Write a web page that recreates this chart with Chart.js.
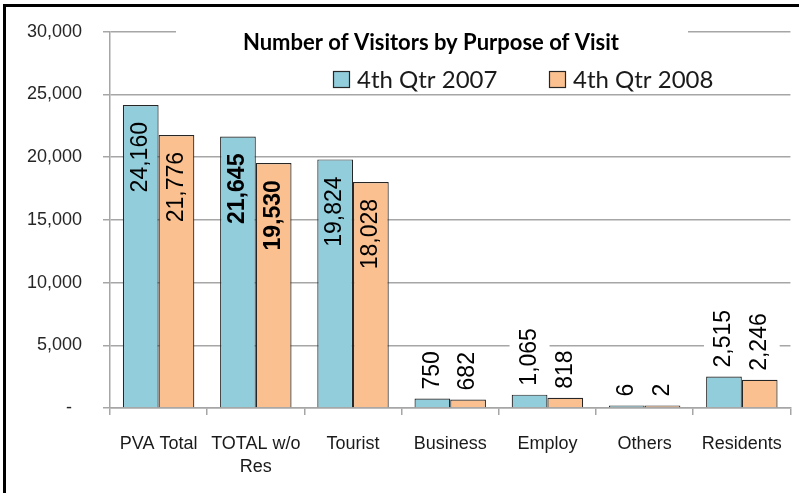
<!DOCTYPE html>
<html>
<head>
<meta charset="utf-8">
<script src="https://cdn.jsdelivr.net/npm/chart.js@4.4.0/dist/chart.umd.min.js"></script>
<style>
  html, body { margin: 0; padding: 0; background: #fff; }
  #wrap { width: 799px; height: 493px; }
</style>
</head>
<body>
<div id="wrap"><canvas id="visitChart" width="799" height="493"></canvas></div>
<script>
// values
const categories = ['PVA Total', ['TOTAL w/o', 'Res'], 'Tourist', 'Business', 'Employ', 'Others', 'Residents'];
const seriesNames = ['4th Qtr 2007', '4th Qtr 2008'];
const visitors2007 = [24160, 21645, 19824, 750, 1065, 6, 2515];
const visitors2008 = [21776, 19530, 18028, 682, 818, 2, 2246];
const yTicks = [0, 5000, 10000, 15000, 20000, 25000, 30000];
const chartTitle = 'Number of Visitors by Purpose of Visit';
const boldCategory = 1; // labels of "TOTAL w/o Res" are bold

const BLUE = '#92CDDC';
const ORANGE = '#FAC090';
const EDGE = '#262626';
const GRID = '#a6a6a6';

const fmt = v => v.toLocaleString('en-US');

// white page + black frame on left/top, like the screenshot
const framePlugin = {
  id: 'frame',
  beforeDraw(chart) {
    const ctx = chart.ctx;
    ctx.save();
    ctx.fillStyle = '#fff';
    ctx.fillRect(0, 0, chart.width, chart.height);
    ctx.fillStyle = '#000';
    ctx.fillRect(3, 4, 3, chart.height - 4);
    ctx.fillRect(3, 4, chart.width - 3, 3);
    ctx.restore();
  }
};

// title + legend sit inside the plot area
const headerPlugin = {
  id: 'header',
  beforeDatasetsDraw(chart) {
    const ctx = chart.ctx;
    ctx.save();
    ctx.fillStyle = '#fff';
    ctx.fillRect(176, 20, 512, 45);
    ctx.fillStyle = '#000';
    ctx.font = 'bold 22px Lato, "Open Sans", sans-serif';
    ctx.textAlign = 'center';
    ctx.textBaseline = 'middle';
    ctx.fillText(chartTitle, 431, 43);

    const boxX = [333, 549];
    ctx.font = '24px Lato, "Open Sans", sans-serif';
    ctx.textAlign = 'left';
    chart.data.datasets.forEach((ds, i) => {
      ctx.fillStyle = ds.backgroundColor;
      ctx.fillRect(boxX[i], 71, 17, 17);
      ctx.strokeStyle = EDGE;
      ctx.lineWidth = 1.2;
      ctx.strokeRect(boxX[i] + 0.5, 71.5, 16, 16);
      ctx.fillStyle = '#1a1a1a';
      ctx.fillText(ds.label, boxX[i] + 24, 80);
    });
    ctx.restore();
  }
};

// rotated value labels: inside end for tall bars, outside end otherwise
const labelPlugin = {
  id: 'barLabels',
  afterDatasetsDraw(chart) {
    const ctx = chart.ctx;
    chart.data.datasets.forEach((ds, di) => {
      const meta = chart.getDatasetMeta(di);
      meta.data.forEach((bar, i) => {
        const txt = fmt(ds.data[i]);
        ctx.save();
        ctx.font = (i === boldCategory ? 'bold ' : '') + '23px "Liberation Sans", Arial, sans-serif';
        ctx.textBaseline = 'middle';
        const w = ctx.measureText(txt).width;
        const h = bar.base - bar.y;
        if (h > w + 30) {
          ctx.translate(bar.x, bar.y + 17);
          ctx.rotate(-Math.PI / 2);
          ctx.textAlign = 'right';
          ctx.fillStyle = '#000';
          ctx.fillText(txt, 0, 0);
        } else {
          ctx.translate(bar.x, bar.y - 9);
          ctx.rotate(-Math.PI / 2);
          ctx.fillStyle = '#fff';
          ctx.fillRect(-3, -20, w + 6, 40);
          ctx.textAlign = 'left';
          ctx.fillStyle = '#000';
          ctx.fillText(txt, 0, 0);
        }
        ctx.restore();
      });
    });
  }
};

new Chart(document.getElementById('visitChart'), {
  type: 'bar',
  data: {
    labels: categories,
    datasets: [
      {
        label: seriesNames[0],
        data: visitors2007,
        backgroundColor: BLUE,
        borderColor: EDGE,
        borderWidth: 1.2,
        minBarLength: 2.4,
        barPercentage: 1,
        categoryPercentage: 0.735
      },
      {
        label: seriesNames[1],
        data: visitors2008,
        backgroundColor: ORANGE,
        borderColor: EDGE,
        borderWidth: 1.2,
        minBarLength: 2.4,
        barPercentage: 1,
        categoryPercentage: 0.735
      }
    ]
  },
  options: {
    responsive: false,
    animation: false,
    layout: { padding: { top: 30, right: 2, left: 0, bottom: 0 } },
    plugins: {
      legend: { display: false },
      title: { display: false },
      tooltip: { enabled: false }
    },
    scales: {
      x: {
        afterFit: s => { s.height = 85; },
        grid: { drawOnChartArea: false, color: GRID, lineWidth: 1.5, tickLength: 7, offset: true },
        border: { color: GRID, width: 1.5 },
        ticks: {
          padding: 17,
          color: '#1a1a1a',
          maxRotation: 0,
          autoSkip: false,
          font: { family: '"Liberation Sans", Arial, sans-serif', size: 18, lineHeight: 1.3 }
        }
      },
      y: {
        min: 0,
        max: 30000,
        afterBuildTicks: s => { s.ticks = yTicks.map(v => ({ value: v })); },
        afterFit: s => { s.width = 110; },
        grid: { color: GRID, lineWidth: 1.5, tickLength: 7 },
        border: { color: GRID, width: 1.5 },
        ticks: {
          padding: 21,
          color: '#262626',
          font: { family: '"Liberation Sans", Arial, sans-serif', size: 18 },
          callback: v => v === 0 ? '-  ' : fmt(v)
        }
      }
    }
  },
  plugins: [framePlugin, headerPlugin, labelPlugin]
});
</script>
</body>
</html>
